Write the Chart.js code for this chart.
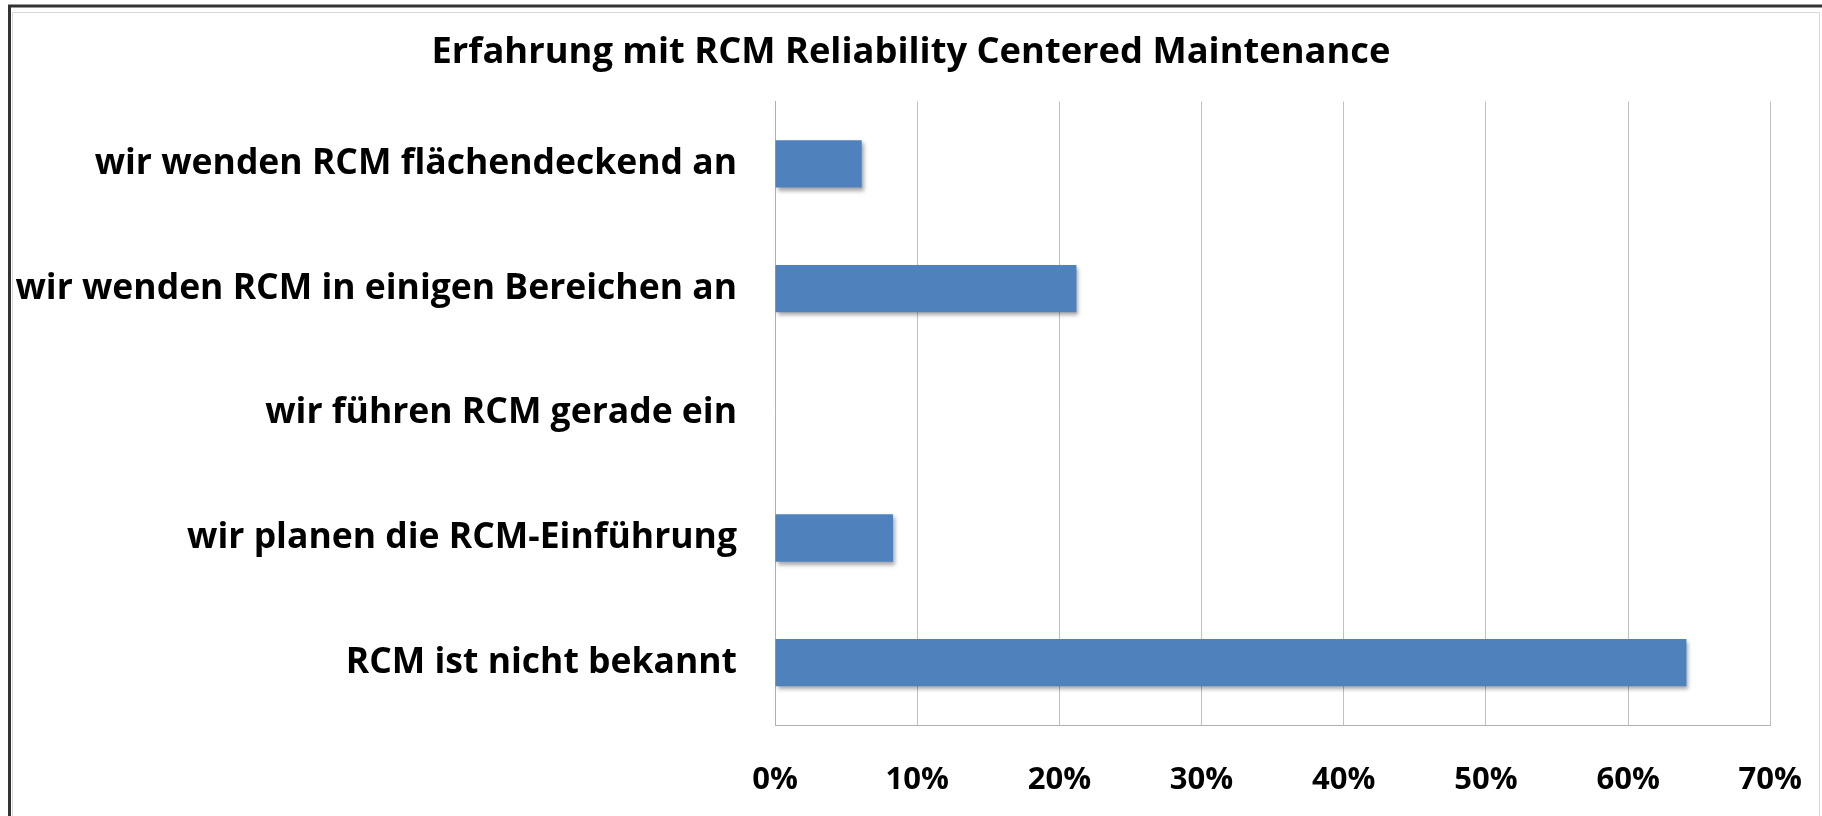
<!DOCTYPE html>
<html>
<head>
<meta charset="utf-8">
<script src="https://cdn.jsdelivr.net/npm/chart.js@4/dist/chart.umd.min.js"></script>
<style>
    html, body { margin: 0; padding: 0; background: #fff; }
    #wrap { width: 1822px; height: 816px; position: relative; }
</style>
</head>
<body>
<div id="wrap"><canvas id="myChart" width="1822" height="816"></canvas></div>
<script>
const chartTitle = "Erfahrung mit RCM Reliability Centered Maintenance";
const categories = [
    "wir wenden RCM flächendeckend an",
    "wir wenden RCM in einigen Bereichen an",
    "wir führen RCM gerade ein",
    "wir planen die RCM-Einführung",
    "RCM ist nicht bekannt"
];
const shares = [6.1, 21.2, 0, 8.3, 64.1];
const tickValues = [0, 10, 20, 30, 40, 50, 60, 70];

const fontFamily = "'Open Sans', Lato, sans-serif";

// excel-like drop shadow under the bars
const barShadow = {
    id: "barShadow",
    beforeDatasetsDraw: (chart) => {
        const ctx = chart.ctx;
        ctx.save();
        ctx.shadowColor = "rgba(0, 0, 0, 0.35)";
        ctx.shadowBlur = 4;
        ctx.shadowOffsetX = 2;
        ctx.shadowOffsetY = 3;
    },
    afterDatasetsDraw: (chart) => {
        chart.ctx.restore();
    }
};

// frame round the picture
const frame = {
    id: "frame",
    afterDraw: (chart) => {
        const ctx = chart.ctx;
        ctx.save();
        ctx.strokeStyle = "#d9d9d9";
        ctx.lineWidth = 1;
        ctx.strokeRect(12.5, 12.5, 1807, 820);
        ctx.strokeStyle = "#333";
        ctx.lineWidth = 3;
        ctx.beginPath();
        ctx.moveTo(9.5, 816);
        ctx.lineTo(9.5, 6);
        ctx.lineTo(1822, 6);
        ctx.stroke();
        ctx.restore();
    }
};

const ctx = document.querySelector("#myChart");

new Chart(ctx, {
    type: "bar",
    data: {
        labels: categories,
        datasets: [
            {
                label: "Anteil",
                data: shares,
                backgroundColor: "#4f81bd",
                borderWidth: 0,
                categoryPercentage: 1,
                barPercentage: 0.38
            }
        ]
    },
    options: {
        indexAxis: "y",
        responsive: false,
        animation: false,
        devicePixelRatio: 1,
        layout: { padding: 0 },
        plugins: {
            legend: { display: false },
            tooltip: { enabled: false },
            title: {
                display: true,
                text: chartTitle,
                color: "#000",
                font: { family: fontFamily, size: 36.3, weight: "bold", lineHeight: 1.2 },
                padding: { top: 31, bottom: 27 }
            }
        },
        scales: {
            x: {
                min: 0,
                max: 70,
                afterBuildTicks: (scale) => {
                    scale.ticks = tickValues.map(v => ({ value: v }));
                },
                afterFit: (scale) => { scale.height = 91; },
                grid: { color: "#c0c0c0", lineWidth: 1, drawTicks: false },
                border: { display: true, color: "#b0b0b0", width: 1 },
                ticks: {
                    padding: 20,
                    color: "#000",
                    font: { family: fontFamily, size: 31, weight: "bold", lineHeight: "70px" },
                    callback: (v) => v + "%"
                }
            },
            y: {
                afterFit: (scale) => { scale.width = 775; },
                grid: { display: false, drawTicks: false },
                border: { display: true, color: "#b0b0b0", width: 1 },
                ticks: {
                    padding: 38,
                    color: "#000",
                    font: { family: fontFamily, size: 35.5, weight: "bold", lineHeight: 1.2 }
                }
            }
        }
    },
    plugins: [barShadow, frame]
});
</script>
</body>
</html>
